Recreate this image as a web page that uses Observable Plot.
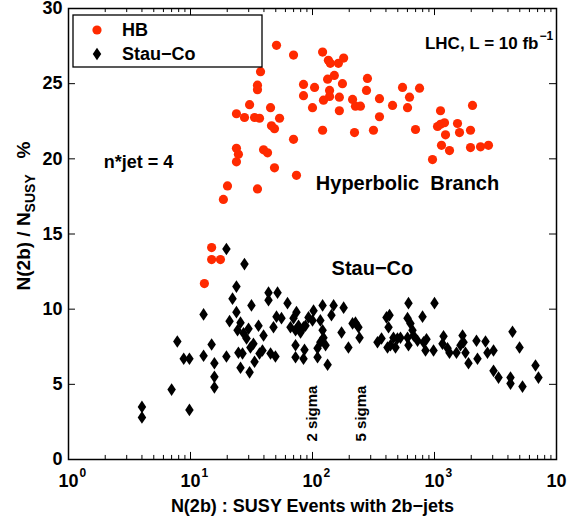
<!DOCTYPE html>
<html><head><meta charset="utf-8">
<script src="https://cdn.jsdelivr.net/npm/d3@7"></script>
<script src="https://cdn.jsdelivr.net/npm/@observablehq/plot@0.6"></script>
<style>
body{margin:0;background:#fff}
#chart svg{display:block}
#chart svg text{white-space:pre}
</style>
</head><body><div id="chart"></div>
<script>
// HB (hyperbolic branch) points
const hbX = [13.0,14.9,14.9,17.6,18.6,20.1,23.8,24.7,23.8,23.8,27.7,30.5,33.5,36.8,35.4,35.4,37.5,35.4,39.7,42.8,45.3,46.1,48.8,53.7,48.8,50.7,69.9,69.9,73.9,84.4,84.4,100,104,121,135,140,163,180,133,151,138,138,176,123,166,213,225,247,166,282,277,354,354,453,547,754,624,601,121,221,316,699,1120,2049,1059,1120,1208,1544,1231,1603,1973,1141,1327,1973,2384,2770,963];
const hbY = [11.7,14.1,13.3,13.3,17.3,18.2,19.8,20.3,20.7,23.0,22.75,23.6,22.75,22.7,24.9,24.6,25.8,18.0,20.6,20.4,23.4,22.2,22.0,22.7,19.4,27.55,21.3,26.9,18.9,24.95,24.2,23.4,24.75,27.1,26.55,26.35,26.35,26.7,25.3,25.55,24.55,24.15,25.0,23.9,24.1,23.95,23.5,23.5,23.2,25.35,24.55,24.0,22.8,23.55,24.75,24.7,24.1,23.4,21.9,21.75,21.9,21.95,23.2,23.55,22.15,22.3,22.4,22.35,21.6,21.75,21.9,20.9,20.55,20.75,20.8,20.9,19.95];
// Stau-Co points
const stX = [4.0,4.0,7.0,7.8,8.8,9.8,9.8,12.8,12.8,14.9,15.7,15.7,15.7,19.7,27.7,23.8,22.1,23.8,20.9,19.7,31.6,25.7,24.3,27.2,28.8,29.9,24.7,26.7,25.7,30.5,33.5,32.8,31.0,36.1,39.7,38.9,36.8,43.6,43.6,51.7,50.7,55.7,47.9,45.3,49.7,62.4,66.0,73.9,72.6,72.6,72.6,69.9,76.8,84.4,86.0,87.6,79.8,92.7,102,100,110,121,116,121,123,128,116,133,149,143,173,180,197,213,225,238,243,110,84.4,341,368,404,428,420,412,436,461,497,526,479,612,601,635,660,673,601,612,726,798,860,844,982,1000,813,1186,1163,1279,1327,1514,1698,1730,1634,1795,1900,2209,2251,2619,2718,3047,3047,3349,4359,4978,4198,4198,5263,6730,7115];
const stY = [3.5,2.8,4.65,7.85,6.7,6.7,3.3,9.65,6.9,7.65,6.4,5.5,4.8,14.0,13.0,11.5,10.7,9.8,9.2,6.85,10.25,9.1,8.6,8.4,8.05,8.7,7.1,7.05,6.1,5.8,6.5,7.7,7.45,8.9,8.25,7.25,7.05,11.1,10.6,11.1,9.5,9.4,8.8,7.05,6.85,10.4,8.8,9.8,8.6,7.6,6.8,9.4,8.9,8.8,7.3,8.9,8.45,9.45,9.9,9.25,7.4,10.25,9.25,8.6,8.1,7.6,7.8,6.3,10.25,9.6,8.45,10.1,7.45,9.05,9.1,8.8,8.1,6.8,6.7,7.8,8.05,9.45,9.6,8.8,7.45,7.6,8.1,8.05,8.1,7.45,10.4,9.4,9.05,8.6,8.25,8.1,7.6,7.9,9.5,8.0,7.25,7.25,10.4,7.8,8.2,7.7,7.4,7.1,7.1,8.25,7.8,7.6,7.1,6.4,7.9,6.7,7.85,7.1,7.25,5.9,5.45,8.5,7.45,5.45,5.05,4.85,6.25,5.45];

const yTicks = [0,5,10,15,20,25,30];
const xMajor = [1,10,100,1000,10000];
const xExp = ["0","1","2","3","4"];
const xMinor = [2,3,4,5,6,7,8,9,20,30,40,50,60,70,80,90,200,300,400,500,600,700,800,900,2000,3000,4000,5000,6000,7000,8000,9000];

const hb = hbX.map((x,i)=>({x, y: hbY[i]}));
const st = stX.map((x,i)=>({x, y: stY[i]}));

const F = "'Liberation Sans', Arial, Helvetica, sans-serif";
const RED = "#ff2a00";
const tallDiamond = { draw(ctx, size) { const r = Math.sqrt(size/Math.PI); ctx.moveTo(0,-1.13*r); ctx.lineTo(0.76*r,0); ctx.lineTo(0,1.13*r); ctx.lineTo(-0.76*r,0); ctx.closePath(); } };

const majLen = 0.47, minLen = 0.27, yTickF = 1.141;
const DR = 5.6, CR = 4.6;

const chart = Plot.plot({
  width: 567, height: 523,
  marginLeft: 68, marginRight: 11, marginTop: 8, marginBottom: 64,
  style: {fontFamily: F, fontWeight: "bold", fontSize: "18px", color: "black", background: "white", overflow: "visible"},
  x: {type: "log", domain: [1, 10000], axis: null},
  y: {domain: [0, 30], axis: null},
  marks: [
    Plot.axisY(yTicks, {anchor: "left", tickSize: 0, tickPadding: 6, label: null, fontSize: 18, fontWeight: "bold"}),
    // x tick labels 10^k
    Plot.text(xMajor, {x: d=>d, y: 0, text: ()=>"10", dy: 22, fontSize: 18, fontWeight: "bold", textAnchor: "middle"}),
    Plot.text(xMajor, {x: d=>d, y: 0, text: (d,i)=>xExp[i], dx: 11, dy: 14, fontSize: 12, fontWeight: "bold", textAnchor: "start"}),
    // inward ticks
    Plot.ruleX(xMajor, {x: d=>d, y1: 0, y2: majLen, stroke: "black"}),
    Plot.ruleX(xMinor, {x: d=>d, y1: 0, y2: minLen, stroke: "black"}),
    Plot.ruleX(xMajor, {x: d=>d, y1: 30 - majLen, y2: 30, stroke: "black"}),
    Plot.ruleX(xMinor, {x: d=>d, y1: 30 - minLen, y2: 30, stroke: "black"}),
    Plot.ruleY(yTicks, {y: d=>d, x1: 1, x2: yTickF, stroke: "black"}),
    Plot.ruleY(yTicks, {y: d=>d, x1: 10000/yTickF, x2: 10000, stroke: "black"}),
    // data
    Plot.dot(st, {x: "x", y: "y", symbol: tallDiamond, r: DR, fill: "black", stroke: "none"}),
    Plot.dot(hb, {x: "x", y: "y", r: CR, fill: RED, stroke: "none"}),
    // annotations
    Plot.text(["n*jet = 4"], {x: 3.75, y: 19.76, fontSize: 18, fontWeight: "bold"}),
    Plot.text(["Hyperbolic  Branch"], {x: 601, y: 18.36, fontSize: 20, fontWeight: "bold"}),
    Plot.text(["Stau\u2212Co"], {x: 310, y: 12.7, fontSize: 20, fontWeight: "bold"}),
    Plot.text(["LHC, L = 10 fb"], {x: 7115, y: 27.7, fontSize: 17, fontWeight: "bold", textAnchor: "end"}),
    Plot.text(["\u22121"], {x: 7115, y: 27.7, dx: 1, dy: -7, fontSize: 12, fontWeight: "bold", textAnchor: "start"}),
    Plot.text(["2 sigma"], {x: 100, y: 3.06, rotate: -90, fontSize: 15, fontWeight: "bold"}),
    Plot.text(["5 sigma"], {x: 252, y: 3.06, rotate: -90, fontSize: 15, fontWeight: "bold"}),
    Plot.text(["N(2b) : SUSY Events with 2b\u2212jets"], {frameAnchor: "bottom", dy: 52, fontSize: 18, fontWeight: "bold"}),
    Plot.frame({stroke: "black", strokeWidth: 1.5})
  ]
});

// y-axis label with subscript
const svg = d3.select(chart);
const yl = svg.append("text")
  .attr("transform", "translate(30,216) rotate(-90)")
  .attr("text-anchor", "middle")
  .attr("font-family", F).attr("font-weight", "bold").attr("font-size", 19).attr("fill", "black");
yl.append("tspan").text("N(2b) / N");
yl.append("tspan").attr("dy", 5).attr("font-size", 14).text("SUSY");
yl.append("tspan").attr("dy", -5).text("   %");

// legend
const lg = svg.append("g").attr("font-family", F).attr("font-weight", "bold").attr("font-size", 18).attr("text-anchor", "start");
lg.append("rect").attr("x", 73).attr("y", 15).attr("width", 189).attr("height", 52).attr("fill", "white").attr("stroke", "black").attr("stroke-width", 1.3);
lg.append("circle").attr("cx", 97).attr("cy", 30).attr("r", CR).attr("fill", RED);
lg.append("path").attr("transform", "translate(97,54)").attr("d", d3.symbol(tallDiamond, DR*DR*Math.PI)()).attr("fill", "black");
lg.append("text").attr("x", 122).attr("y", 30).attr("dy", "0.35em").attr("text-anchor", "start").text("HB");
lg.append("text").attr("x", 122).attr("y", 54).attr("dy", "0.35em").attr("text-anchor", "start").text("Stau\u2212Co");

document.getElementById("chart").appendChild(chart);
</script>
</body></html>
